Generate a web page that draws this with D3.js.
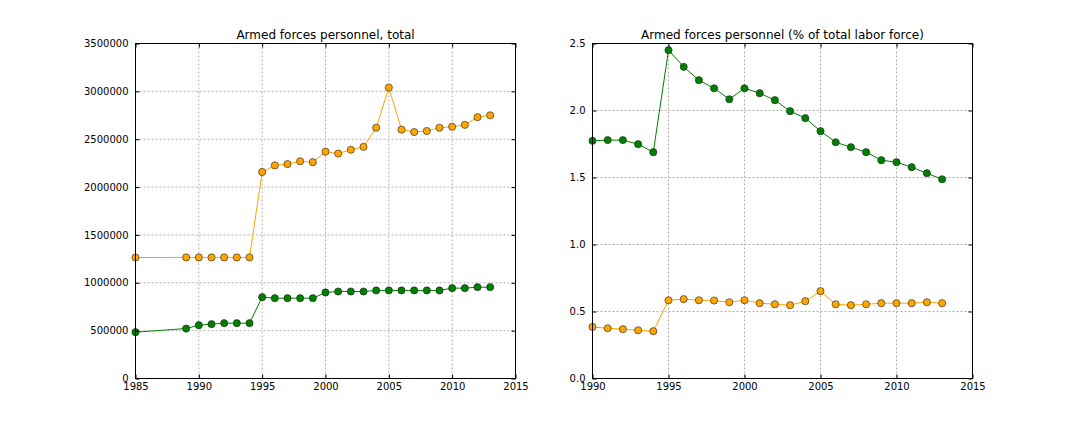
<!DOCTYPE html>
<html><head><meta charset="utf-8">
<script src="https://cdn.jsdelivr.net/npm/d3@7"></script>
<style>body{margin:0;background:#fff}text{font-family:"DejaVu Sans",sans-serif}</style>
</head><body>
<svg id="c" width="1080" height="432"></svg>
<script>
const yearsLeft = [1985,1989,1990,1991,1992,1993,1994,1995,1996,1997,1998,1999,2000,2001,2002,2003,2004,2005,2006,2007,2008,2009,2010,2011,2012,2013];
const totalOrange = [1264000,1265000,1265000,1265000,1265000,1265000,1265000,2158000,2226000,2240000,2270000,2260000,2370000,2350000,2390000,2420000,2620000,3040000,2600000,2575000,2586000,2620000,2630000,2650000,2730000,2750000];
const totalGreen = [484000,522000,557000,568000,578000,578000,578000,850000,839000,839000,839000,839000,899000,909000,909000,909000,920000,920000,920000,920000,920000,920000,944000,944000,954000,954000];
const yearsRight = [1990,1991,1992,1993,1994,1995,1996,1997,1998,1999,2000,2001,2002,2003,2004,2005,2006,2007,2008,2009,2010,2011,2012,2013];
const pctGreen = [1.774,1.779,1.779,1.749,1.689,2.45,2.326,2.226,2.166,2.084,2.166,2.129,2.077,1.995,1.943,1.846,1.763,1.726,1.689,1.629,1.614,1.577,1.532,1.487];
const pctOrange = [0.385,0.375,0.368,0.36,0.353,0.584,0.592,0.584,0.582,0.569,0.584,0.562,0.554,0.547,0.577,0.652,0.554,0.547,0.554,0.562,0.562,0.562,0.569,0.562];
const leftXTicks = [1985,1990,1995,2000,2005,2010,2015];
const leftYTicks = [0,500000,1000000,1500000,2000000,2500000,3000000,3500000];
const rightXTicks = [1990,1995,2000,2005,2010,2015];
const rightYTicks = [0,0.5,1.0,1.5,2.0,2.5];
const titles = ["Armed forces personnel, total","Armed forces personnel (% of total labor force)"];

const svg = d3.select("#c");
const GREEN = "#008000", ORANGE = "#ffa500";

function panel(x0, x1, y0, y1, xDom, yDom, xT, yT, yFmt, title, series) {
  const g = svg.append("g");
  const x = d3.scaleLinear().domain(xDom).range([x0, x1]);
  const y = d3.scaleLinear().domain(yDom).range([y1, y0]);
  g.append("g").selectAll("line.gx").data(xT.slice(1,-1)).join("line")
    .attr("x1", d=>x(d)).attr("x2", d=>x(d)).attr("y1", y0).attr("y2", y1)
    .attr("stroke", "#b0b0b0").attr("stroke-dasharray", "2,2").attr("stroke-width", 1);
  g.append("g").selectAll("line.gy").data(yT.slice(1,-1)).join("line")
    .attr("y1", d=>y(d)).attr("y2", d=>y(d)).attr("x1", x0).attr("x2", x1)
    .attr("stroke", "#b0b0b0").attr("stroke-dasharray", "2,2").attr("stroke-width", 1);
  series.forEach(s => {
    const pts = s.xs.map((xv,i)=>[xv, s.ys[i]]);
    g.append("path").datum(pts)
      .attr("d", d3.line().x(d=>x(d[0])).y(d=>y(d[1])))
      .attr("fill","none").attr("stroke", s.color).attr("stroke-width", 1);
    g.append("g").selectAll("circle").data(pts).join("circle")
      .attr("cx", d=>x(d[0])).attr("cy", d=>y(d[1])).attr("r", 3.6)
      .attr("fill", s.color).attr("stroke", "#222").attr("stroke-width", 0.6);
  });
  const bottom = d3.axisBottom(x).tickValues(xT).tickFormat(d3.format("d")).tickSizeInner(-4).tickSizeOuter(0).tickPadding(4);
  const top = d3.axisTop(x).tickValues(xT).tickFormat("").tickSizeInner(-4).tickSizeOuter(0);
  const left = d3.axisLeft(y).tickValues(yT).tickFormat(yFmt).tickSizeInner(-4).tickSizeOuter(0).tickPadding(7);
  const right = d3.axisRight(y).tickValues(yT).tickFormat("").tickSizeInner(-4).tickSizeOuter(0);
  [[bottom, `translate(0,${y1})`],[top, `translate(0,${y0})`],[left, `translate(${x0},0)`],[right, `translate(${x1},0)`]].forEach(([a,t])=>{
    const ag = g.append("g").attr("transform", t).call(a);
    ag.select(".domain").remove();
    ag.selectAll("line").attr("stroke","#000");
    ag.selectAll("text").attr("font-size", 10).attr("fill","#000").attr("font-family","DejaVu Sans");
  });
  g.append("rect").attr("x", x0).attr("y", y0).attr("width", x1-x0).attr("height", y1-y0)
    .attr("fill","none").attr("stroke","#000").attr("stroke-width",1);
  g.append("text").attr("x", (x0+x1)/2).attr("y", y0-5).attr("text-anchor","middle")
    .attr("font-size", 12).text(title);
}

panel(135.5, 515.5, 43.5, 378.5, [1985,2015], [0,3500000], leftXTicks, leftYTicks, d3.format("d"), titles[0],
  [{xs: yearsLeft, ys: totalOrange, color: ORANGE},{xs: yearsLeft, ys: totalGreen, color: GREEN}]);
panel(592.5, 972.5, 43.5, 378.5, [1990,2015], [0,2.5], rightXTicks, rightYTicks, d3.format(".1f"), titles[1],
  [{xs: yearsRight, ys: pctGreen, color: GREEN},{xs: yearsRight, ys: pctOrange, color: ORANGE}]);
</script>
</body></html>
